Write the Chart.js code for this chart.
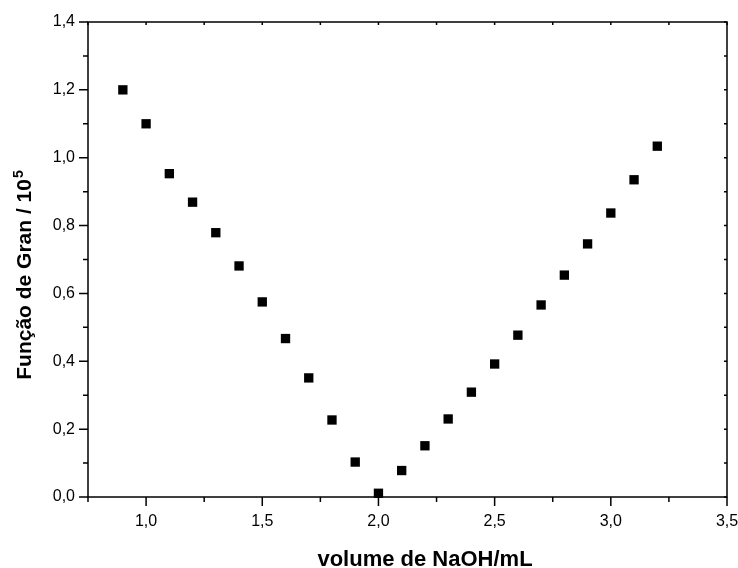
<!DOCTYPE html>
<html>
<head>
<meta charset="utf-8">
<title>Função de Gran</title>
<script src="https://cdn.jsdelivr.net/npm/chart.js@4"></script>
<style>
  html, body { margin: 0; padding: 0; background: #fff; }
  canvas { display: block; }
</style>
</head>
<body>
<canvas id="c" width="738" height="568"></canvas>
<script>
// Gran function vs. volume of NaOH added
const volumeNaOH = [0.9, 1.0, 1.1, 1.2, 1.3, 1.4, 1.5, 1.6, 1.7, 1.8, 1.9, 2.0,
                    2.1, 2.2, 2.3, 2.4, 2.5, 2.6, 2.7, 2.8, 2.9, 3.0, 3.1, 3.2];
const granValues = [1.200, 1.100, 0.953, 0.869, 0.779, 0.681, 0.575, 0.467, 0.351, 0.227, 0.103, 0.011,
                    0.078, 0.151, 0.230, 0.309, 0.392, 0.477, 0.566, 0.654, 0.746, 0.837, 0.935, 1.034];

// axis ticks
const xTickValues = [1.0, 1.5, 2.0, 2.5, 3.0, 3.5];
const xMinorValues = [0.75, 1.25, 1.75, 2.25, 2.75, 3.25];
const yTickValues = [0.0, 0.2, 0.4, 0.6, 0.8, 1.0, 1.2, 1.4];
const yMinorValues = [0.1, 0.3, 0.5, 0.7, 0.9, 1.1, 1.3];

const xTitle = 'volume de NaOH/mL';
const yTitle = 'Função de Gran / 10';
const yTitleSup = '5';

const FONT = '"Liberation Sans", Arial, Helvetica, sans-serif';
const fmt = v => Number(v).toFixed(1).replace('.', ',');

// frame, tick marks and axis titles
const framePlugin = {
  id: 'frame',
  afterDraw(chart) {
    const { ctx, chartArea: a, scales: { x, y } } = chart;
    ctx.save();
    ctx.strokeStyle = '#000';
    ctx.lineWidth = 1.5;
    ctx.strokeRect(a.left, a.top, a.right - a.left, a.bottom - a.top);

    const MAJ = 9, MIN = 5, IN = 3;
    ctx.beginPath();
    const xt = (v, len) => {
      const px = x.getPixelForValue(v);
      ctx.moveTo(px, a.bottom); ctx.lineTo(px, a.bottom + len);
      ctx.moveTo(px, a.top); ctx.lineTo(px, a.top + IN);
    };
    const yt = (v, len) => {
      const py = y.getPixelForValue(v);
      ctx.moveTo(a.left, py); ctx.lineTo(a.left - len, py);
      ctx.moveTo(a.right, py); ctx.lineTo(a.right - IN, py);
    };
    xTickValues.forEach(v => xt(v, MAJ));
    xMinorValues.forEach(v => xt(v, MIN));
    yTickValues.forEach(v => yt(v, MAJ));
    yMinorValues.forEach(v => yt(v, MIN));
    ctx.stroke();

    // x-axis title
    ctx.fillStyle = '#000';
    ctx.font = 'bold 22px ' + FONT;
    ctx.textAlign = 'center';
    ctx.textBaseline = 'alphabetic';
    ctx.fillText(xTitle, 425, 566);

    // y-axis title with superscript exponent
    const mainFont = 'bold 21px ' + FONT;
    const supFont = 'bold 14px ' + FONT;
    ctx.font = mainFont;
    const w1 = ctx.measureText(yTitle).width;
    ctx.font = supFont;
    const w2 = ctx.measureText(yTitleSup).width;
    const total = w1 + w2 + 1;
    ctx.translate(31, 275 + total / 2);
    ctx.rotate(-Math.PI / 2);
    ctx.textAlign = 'left';
    ctx.font = mainFont;
    ctx.fillText(yTitle, 0, 0);
    ctx.font = supFont;
    ctx.fillText(yTitleSup, w1 + 1, -8);
    ctx.restore();
  }
};

new Chart(document.getElementById('c'), {
  type: 'scatter',
  data: {
    datasets: [{
      data: volumeNaOH.map((v, i) => ({ x: v, y: granValues[i] })),
      pointStyle: 'rect',
      pointRadius: 6.6,
      pointHoverRadius: 6.6,
      borderWidth: 0,
      backgroundColor: '#000',
      borderColor: '#000',
      clip: false
    }]
  },
  options: {
    responsive: false,
    animation: false,
    layout: { padding: { top: 22, right: 11, left: 0, bottom: 0 } },
    plugins: { legend: { display: false }, tooltip: { enabled: false } },
    scales: {
      x: {
        type: 'linear',
        min: 0.75,
        max: 3.5,
        afterBuildTicks: s => { s.ticks = xTickValues.map(v => ({ value: v })); },
        afterFit: s => { s.height = 71; s.paddingLeft = 0; s.paddingRight = 0; },
        grid: { display: false, drawTicks: false },
        border: { display: false },
        ticks: {
          autoSkip: false,
          maxRotation: 0,
          padding: 15,
          color: '#000',
          font: { family: FONT, size: 16 },
          callback: v => fmt(v)
        }
      },
      y: {
        type: 'linear',
        min: 0,
        max: 1.4,
        afterBuildTicks: s => { s.ticks = yTickValues.map(v => ({ value: v })); },
        afterFit: s => { s.width = 88; s.paddingTop = 0; s.paddingBottom = 0; },
        grid: { display: false, drawTicks: false },
        border: { display: false },
        ticks: {
          autoSkip: false,
          padding: 13,
          color: '#000',
          font: { family: FONT, size: 16 },
          callback: v => fmt(v)
        }
      }
    }
  },
  plugins: [framePlugin]
});
</script>
</body>
</html>
